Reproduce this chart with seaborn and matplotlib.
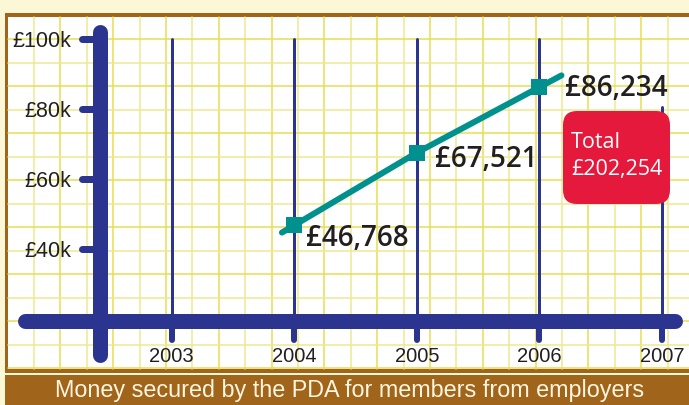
import numpy as np
import pandas as pd
import seaborn as sns
import matplotlib.pyplot as plt
from matplotlib.patches import Rectangle, FancyBboxPatch

# data (money secured, in £k)
years = [2004, 2005, 2006]
amounts = [46.768, 67.521, 86.234]
amount_labels = ['£46,768', '£67,521', '£86,234']
axis_years = [2003, 2004, 2005, 2006, 2007]
ytick_values = [40, 60, 80, 100]
ytick_labels = ['£40k', '£60k', '£80k', '£100k']
total_text = 'Total\n£202,254'
caption = 'Money secured by the PDA for members from employers'

NAVY = '#2b3590'
TEAL = '#00918e'
RED = '#e4193b'
BROWN = '#a0641a'
CREAM = '#fcf7d6'
INK = '#231f20'

sns.set_style('white')
plt.rcParams['font.family'] = ['Liberation Sans', 'DejaVu Sans']

W, H = 689, 405
fig = plt.figure(figsize=(W / 100, H / 100), dpi=100)
fig.patch.set_facecolor(CREAM)

# background layer in pixel units (frame, grid paper, caption band)
bg = fig.add_axes([0, 0, 1, 1])
bg.set_xlim(0, W)
bg.set_ylim(H, 0)
bg.axis('off')
bg.add_patch(Rectangle((5, 13), W, 360, color=BROWN, lw=0))
bg.add_patch(Rectangle((8, 17), W, 352, color='white', lw=0))
for i, gx in enumerate(np.arange(34, W, 26.4)):
    bg.plot([gx, gx], [17, 369], color='#e6de55' if i % 2 else '#eee892', lw=1.1, zorder=1)
for i, gy in enumerate(np.arange(39, 369, 23.5)):
    bg.plot([8, W], [gy, gy], color='#e6de55' if i % 2 == 0 else '#eee892', lw=1.1, zorder=1)
bg.add_patch(Rectangle((5, 375), W, 30, color=BROWN, lw=0))
bg.text(350, 391, caption, color='#fdf6e0', fontsize=16.8, ha='center', va='center')

# main chart axes, placed over the paper
left, right, top, bottom = 8, 689, 17, 369
ax = fig.add_axes([left / W, 1 - bottom / H, (right - left) / W, (bottom - top) / H])
ax.patch.set_alpha(0)

PX_YR, X0_PX = 122.6, 416.8   # pixels per year, pixel of 2005
PX_K, Y100_PX = 3.5, 39.0     # pixels per £1k, pixel of £100k


def px2x(px):
    return 2005 + (px - X0_PX) / PX_YR


def px2y(py):
    return 100 - (py - Y100_PX) / PX_K


ax.set_xlim(px2x(left), px2x(right))
ax.set_ylim(px2y(bottom), px2y(top))
ax.axis('off')

base = px2y(320.5)
lw = lambda px: px * 0.72

# year guide lines and stubs
for yr in axis_years:
    top_val = 100 if yr < 2007 else 80.5
    ax.plot([yr, yr], [base, top_val], color=NAVY, lw=lw(3), zorder=2)
    ax.plot([yr, yr], [px2y(340), base], color=NAVY, lw=lw(6),
            solid_capstyle='round', zorder=2)
    ax.text(yr, px2y(357), str(yr), color=INK, fontsize=14.5, ha='center', va='center')

# thick axes
ax.plot([px2x(25), px2x(675)], [base, base], color=NAVY, lw=lw(15),
        solid_capstyle='round', zorder=3)
ax.plot([px2x(99.5), px2x(99.5)], [px2y(355), px2y(32)], color=NAVY, lw=lw(15),
        solid_capstyle='round', zorder=3)
for v, lab in zip(ytick_values, ytick_labels):
    ax.plot([px2x(82), px2x(99)], [v, v], color=NAVY, lw=lw(7),
            solid_capstyle='round', zorder=3)
    ax.text(px2x(71), v, lab, color=INK, fontsize=15.5, ha='right', va='center_baseline')

# trend line, slightly extended past the end points
df = pd.DataFrame({'year': years, 'amount': amounts})
s0 = (amounts[1] - amounts[0]) / (years[1] - years[0])
s1 = (amounts[-1] - amounts[-2]) / (years[-1] - years[-2])
x_ext = [years[0] - 0.1, years[-1] + 0.18]
y_ext = [amounts[0] - 0.1 * s0, amounts[-1] + 0.18 * s1]
ax.plot([x_ext[0], years[0]], [y_ext[0], amounts[0]], color=TEAL, lw=lw(6),
        solid_capstyle='round', zorder=4)
ax.plot([years[-1], x_ext[1]], [amounts[-1], y_ext[1]], color=TEAL, lw=lw(6),
        solid_capstyle='round', zorder=4)
sns.lineplot(data=df, x='year', y='amount', ax=ax, color=TEAL, lw=lw(6),
             marker='s', markersize=11, markeredgewidth=0, zorder=5)
ax.set_xlabel('')
ax.set_ylabel('')

label_fam = ['Open Sans', 'DejaVu Sans']
offsets = [(12, -21), (18, -14), (26, -9)]
for x, y, lab, off in zip(years, amounts, amount_labels, offsets):
    ax.annotate(lab, (x, y), xytext=off, textcoords='offset pixels', fontsize=20,
                fontweight='semibold', family=label_fam, color=INK,
                ha='left', va='baseline', zorder=6)

# total box
box = FancyBboxPatch((563, 111), 107, 93, boxstyle='round,pad=0,rounding_size=14',
                     transform=bg.transData, color=RED, lw=0, zorder=7)
ax.add_patch(box)
ax.text(571, 156, total_text, transform=bg.transData, color='white', fontsize=15.5,
        family=label_fam, ha='left', va='center', linespacing=1.35, zorder=8)

fig.savefig('out.png', dpi=100, facecolor=fig.get_facecolor())
